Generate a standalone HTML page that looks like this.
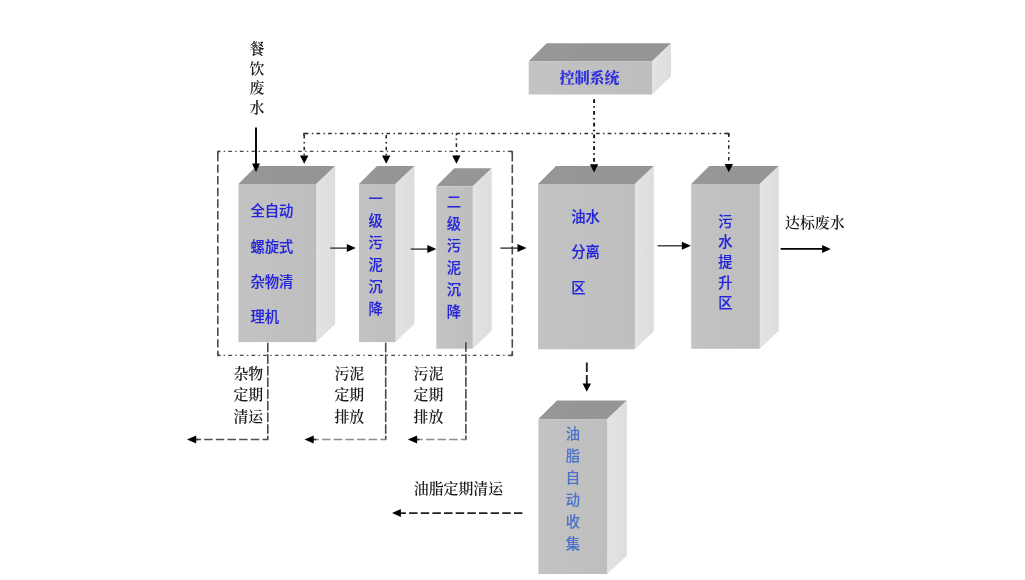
<!DOCTYPE html>
<html lang="zh-CN">
<head>
<meta charset="utf-8">
<title>餐饮废水处理流程图</title>
<style>
html,body{margin:0;padding:0;background:#fff;}
body{width:1025px;height:580px;overflow:hidden;}
svg{display:block;}
text{font-size:14.9px;}
.k{font-family:"Liberation Serif","Noto Serif CJK SC",serif;fill:#1c1c1c;font-weight:600;}
.kb{font-family:"Liberation Serif","Noto Serif CJK SC",serif;fill:#2e2ee0;font-weight:900;}
.b{font-family:"Liberation Sans","Noto Sans CJK SC",sans-serif;fill:#2424da;stroke:#2424da;stroke-width:0.15px;font-weight:500;font-size:14.3px;}
.c{font-family:"Liberation Sans","Noto Sans CJK SC",sans-serif;fill:#4d72c8;stroke:#4d72c8;stroke-width:0.1px;font-weight:500;font-size:14.3px;}
</style>
</head>
<body>
<svg width="1025" height="580" viewBox="0 0 1025 580">
<rect width="1025" height="580" fill="#ffffff"/>
<defs>
<linearGradient id="gf" x1="0" y1="0" x2="1" y2="0"><stop offset="0" stop-color="#c3c3c3"/><stop offset="1" stop-color="#bebebe"/></linearGradient>
<linearGradient id="gt" x1="0" y1="0" x2="1" y2="0"><stop offset="0" stop-color="#979797"/><stop offset="1" stop-color="#959595"/></linearGradient>
<linearGradient id="gs" x1="0" y1="0" x2="1" y2="0"><stop offset="0" stop-color="#e3e3e3"/><stop offset="1" stop-color="#dddddd"/></linearGradient>
</defs>
<g style="filter:blur(0.5px)">
<polygon points="528.7,61.2 546.7,43.2 671.0,43.2 652.1,61.2" fill="url(#gt)"/>
<polygon points="652.1,61.2 671.0,43.2 671.0,76.5 652.1,94.5" fill="url(#gs)"/>
<rect x="528.7" y="61.2" width="123.40" height="33.30" fill="url(#gf)"/>
<polygon points="238.4,184.0 256.4,166.0 335.2,166.0 316.3,184.0" fill="url(#gt)"/>
<polygon points="316.3,184.0 335.2,166.0 335.2,324.1 316.3,342.1" fill="url(#gs)"/>
<rect x="238.4" y="184" width="77.90" height="158.10" fill="url(#gf)"/>
<polygon points="359.0,184.0 377.0,166.0 414.4,166.0 395.5,184.0" fill="url(#gt)"/>
<polygon points="395.5,184.0 414.4,166.0 414.4,324.1 395.5,342.1" fill="url(#gs)"/>
<rect x="359" y="184" width="36.50" height="158.10" fill="url(#gf)"/>
<polygon points="436.3,186.3 454.3,168.3 491.7,168.3 472.8,186.3" fill="url(#gt)"/>
<polygon points="472.8,186.3 491.7,168.3 491.7,330.7 472.8,348.7" fill="url(#gs)"/>
<rect x="436.3" y="186.3" width="36.50" height="162.40" fill="url(#gf)"/>
<polygon points="538.0,184.0 556.0,166.0 653.8,166.0 634.9,184.0" fill="url(#gt)"/>
<polygon points="634.9,184.0 653.8,166.0 653.8,331.3 634.9,349.3" fill="url(#gs)"/>
<rect x="538" y="184" width="96.90" height="165.30" fill="url(#gf)"/>
<polygon points="691.2,184.0 709.2,166.0 778.7,166.0 759.8,184.0" fill="url(#gt)"/>
<polygon points="759.8,184.0 778.7,166.0 778.7,330.8 759.8,348.8" fill="url(#gs)"/>
<rect x="691.2" y="184" width="68.60" height="164.80" fill="url(#gf)"/>
<polygon points="538.4,419.1 557.0,400.5 626.8,400.5 607.3,419.1" fill="url(#gt)"/>
<polygon points="607.3,419.1 626.8,400.5 626.8,555.4 607.3,574.0" fill="url(#gs)"/>
<rect x="538.4" y="419.1" width="68.90" height="154.90" fill="url(#gf)"/>
<path d="M217.7,151.4 L512.6,151.4" fill="none" stroke="#4a4a4a" stroke-width="1.3" stroke-dasharray="3.7 3.35 1.4 3.2" stroke-dashoffset="1.15"/>
<path d="M217.7,355.4 L512.6,355.4" fill="none" stroke="#4a4a4a" stroke-width="1.3" stroke-dasharray="3.7 3.35 1.4 3.2" stroke-dashoffset="1.15"/>
<path d="M217.8,151.4 L217.8,355.4" fill="none" stroke="#4a4a4a" stroke-width="1.6" stroke-dasharray="8.45 3.2" stroke-dashoffset="10.30"/>
<path d="M512.3,151.4 L512.3,355.4" fill="none" stroke="#4a4a4a" stroke-width="1.6" stroke-dasharray="8.45 3.2" stroke-dashoffset="10.10"/>
<path d="M220.4,151.4 L217.8,151.4 L217.8,154.0" fill="none" stroke="#4a4a4a" stroke-width="1.5" stroke-linejoin="round"/>
<path d="M509.69999999999993,151.4 L512.3,151.4 L512.3,154.0" fill="none" stroke="#4a4a4a" stroke-width="1.5" stroke-linejoin="round"/>
<path d="M220.4,355.4 L217.8,355.4 L217.8,352.79999999999995" fill="none" stroke="#4a4a4a" stroke-width="1.5" stroke-linejoin="round"/>
<path d="M509.69999999999993,355.4 L512.3,355.4 L512.3,352.79999999999995" fill="none" stroke="#4a4a4a" stroke-width="1.5" stroke-linejoin="round"/>
<path d="M303.8,133.4 L729.2,133.4" fill="none" stroke="#2e2e2e" stroke-width="1.5" stroke-dasharray="3.7 3.35 1.4 3.2" stroke-dashoffset="10.65"/>
<path d="M306,133.4 L303.9,133.4 L303.9,135.5" fill="none" stroke="#2e2e2e" stroke-width="1.5" stroke-linejoin="round"/>
<path d="M726.5,133.4 L728.8,133.4 L728.8,135.5" fill="none" stroke="#2e2e2e" stroke-width="1.5" stroke-linejoin="round"/>
<path d="M594.1,99.3 L594.1,164" fill="none" stroke="#111" stroke-width="1.9" stroke-dasharray="3.7 3.3 1.5 3.25" stroke-dashoffset="0.00"/>
<path d="M304.2,133.5 L304.2,155.8" fill="none" stroke="#222" stroke-width="1.5" stroke-dasharray="3.7 3.3 1.5 3.25" stroke-dashoffset="10.35"/>
<polygon points="304.2,163.8 300.0,155.5 308.4,155.5" fill="#000"/>
<path d="M386.2,133.5 L386.2,155.8" fill="none" stroke="#222" stroke-width="1.5" stroke-dasharray="3.7 3.3 1.5 3.25" stroke-dashoffset="10.35"/>
<polygon points="386.2,163.8 382.0,155.5 390.4,155.5" fill="#000"/>
<path d="M456.4,133.5 L456.4,155.8" fill="none" stroke="#222" stroke-width="1.5" stroke-dasharray="3.7 3.3 1.5 3.25" stroke-dashoffset="2.05"/>
<polygon points="456.4,163.8 452.2,155.5 460.59999999999997,155.5" fill="#000"/>
<path d="M728.8,133.5 L728.8,164.2" fill="none" stroke="#222" stroke-width="1.5" stroke-dasharray="3.7 3.3 1.5 3.25" stroke-dashoffset="0.10"/>
<polygon points="728.8,172.2 724.5999999999999,163.89999999999998 733.0,163.89999999999998" fill="#000"/>
<polygon points="594.1,172.6 589.9,164.29999999999998 598.3000000000001,164.29999999999998" fill="#000"/>
<path d="M256,127.5 L256,165" fill="none" stroke="#000" stroke-width="1.9"/>
<polygon points="256,172.3 252.1,163.5 259.9,163.5" fill="#000"/>
<path d="M330.3,248.1 L349.1,248.1" fill="none" stroke="#2a2a2a" stroke-width="1.3"/>
<polygon points="355.8,248.1 346.8,244.1 346.8,252.1" fill="#000"/>
<path d="M410.6,249.1 L429.6,249.1" fill="none" stroke="#2a2a2a" stroke-width="1.3"/>
<polygon points="436.3,249.1 427.3,245.1 427.3,253.1" fill="#000"/>
<path d="M500.4,248.1 L519.8,248.1" fill="none" stroke="#2a2a2a" stroke-width="1.3"/>
<polygon points="526.5,248.1 517.5,244.1 517.5,252.1" fill="#000"/>
<path d="M657.7,245.8 L684.2,245.8" fill="none" stroke="#2a2a2a" stroke-width="1.3"/>
<polygon points="690.9000000000001,245.8 681.9000000000001,241.8 681.9000000000001,249.8" fill="#000"/>
<path d="M780.6,248.9 L824,248.9" fill="none" stroke="#000" stroke-width="1.9"/>
<polygon points="830.7,248.9 822.1,244.9 822.1,252.9" fill="#000"/>
<path d="M267.8,343.2 L267.8,439.5" fill="none" stroke="#4a4a4a" stroke-width="1.6" stroke-dasharray="8.45 3.2" stroke-dashoffset="0.00" stroke-linecap="round"/>
<path d="M267.8,439.5 L194.0,439.5" fill="none" stroke="#505050" stroke-width="1.6" stroke-dasharray="8.45 3.2" stroke-dashoffset="3.10"/>
<path d="M194.0,439.5 L198.5,439.5" fill="none" stroke="#333" stroke-width="1.6"/>
<polygon points="187.0,439.5 196.2,435.5 196.2,443.5" fill="#000"/>
<path d="M385.7,343.2 L385.7,439.5" fill="none" stroke="#4a4a4a" stroke-width="1.6" stroke-dasharray="8.45 3.2" stroke-dashoffset="0.00" stroke-linecap="round"/>
<path d="M385.7,439.5 L311.5,439.5" fill="none" stroke="#8c8c8c" stroke-width="1.6" stroke-dasharray="8.45 3.2" stroke-dashoffset="3.10"/>
<path d="M311.5,439.5 L316.0,439.5" fill="none" stroke="#333" stroke-width="1.6"/>
<polygon points="304.5,439.5 313.7,435.5 313.7,443.5" fill="#000"/>
<path d="M465.9,342.9 L465.9,439.5" fill="none" stroke="#4a4a4a" stroke-width="1.6" stroke-dasharray="8.45 3.2" stroke-dashoffset="0.00" stroke-linecap="round"/>
<path d="M465.9,439.5 L414.9,439.5" fill="none" stroke="#8c8c8c" stroke-width="1.6" stroke-dasharray="8.45 3.2" stroke-dashoffset="3.40"/>
<path d="M414.9,439.5 L419.4,439.5" fill="none" stroke="#333" stroke-width="1.6"/>
<polygon points="407.9,439.5 417.09999999999997,435.5 417.09999999999997,443.5" fill="#000"/>
<path d="M586.8,362.5 L586.8,385" fill="none" stroke="#222" stroke-width="1.9" stroke-dasharray="9.4 3.2" stroke-dashoffset="0.00"/>
<polygon points="586.8,391.8 582.5999999999999,383.5 591.0,383.5" fill="#000"/>
<path d="M522.4,513.1 L399,513.1" fill="none" stroke="#222" stroke-width="1.7" stroke-dasharray="8.45 3.2" stroke-dashoffset="0.00"/>
<polygon points="392.1,513.1 400.90000000000003,509.1 400.90000000000003,517.1" fill="#000"/>
<text class="k" text-anchor="middle"><tspan x="257" y="53.80">餐</tspan><tspan x="257" y="73.50">饮</tspan><tspan x="257" y="93.20">废</tspan><tspan x="257" y="112.90">水</tspan></text>
<text class="kb" x="589.6" y="83.30" text-anchor="middle">控制系统</text>
<text class="b" x="250.4" y="216.30" text-anchor="start">全自动</text>
<text class="b" x="250.4" y="251.60" text-anchor="start">螺旋式</text>
<text class="b" x="250.4" y="286.90" text-anchor="start">杂物清</text>
<text class="b" x="250.4" y="322.20" text-anchor="start">理机</text>
<text class="b" text-anchor="middle"><tspan x="375.6" y="204.10">一</tspan><tspan x="375.6" y="226.10">级</tspan><tspan x="375.6" y="248.10">污</tspan><tspan x="375.6" y="270.10">泥</tspan><tspan x="375.6" y="292.10">沉</tspan><tspan x="375.6" y="314.10">降</tspan></text>
<text class="b" text-anchor="middle"><tspan x="453.8" y="206.60">二</tspan><tspan x="453.8" y="228.60">级</tspan><tspan x="453.8" y="250.60">污</tspan><tspan x="453.8" y="272.60">泥</tspan><tspan x="453.8" y="294.60">沉</tspan><tspan x="453.8" y="316.60">降</tspan></text>
<text class="b" x="571.2" y="221.90" text-anchor="start">油水</text>
<text class="b" x="571.2" y="257.40" text-anchor="start">分离</text>
<text class="b" x="571.2" y="292.90" text-anchor="start">区</text>
<text class="b" text-anchor="middle"><tspan x="725.5" y="227.00">污</tspan><tspan x="725.5" y="247.20">水</tspan><tspan x="725.5" y="267.40">提</tspan><tspan x="725.5" y="287.60">升</tspan><tspan x="725.5" y="307.80">区</tspan></text>
<text class="c" text-anchor="middle"><tspan x="572.8" y="439.00">油</tspan><tspan x="572.8" y="461.00">脂</tspan><tspan x="572.8" y="483.00">自</tspan><tspan x="572.8" y="505.00">动</tspan><tspan x="572.8" y="527.00">收</tspan><tspan x="572.8" y="549.00">集</tspan></text>
<text class="k" x="785.0" y="228.30" text-anchor="start">达标废水</text>
<text class="k" x="233.4" y="378.50" text-anchor="start">杂物</text>
<text class="k" x="233.4" y="400.00" text-anchor="start">定期</text>
<text class="k" x="233.4" y="421.50" text-anchor="start">清运</text>
<text class="k" x="334.4" y="378.50" text-anchor="start">污泥</text>
<text class="k" x="334.4" y="400.00" text-anchor="start">定期</text>
<text class="k" x="334.4" y="421.50" text-anchor="start">排放</text>
<text class="k" x="413.6" y="378.50" text-anchor="start">污泥</text>
<text class="k" x="413.6" y="400.00" text-anchor="start">定期</text>
<text class="k" x="413.6" y="421.50" text-anchor="start">排放</text>
<text class="k" x="413.8" y="494.30" text-anchor="start">油脂定期清运</text>
</g>
</svg>
</body>
</html>
